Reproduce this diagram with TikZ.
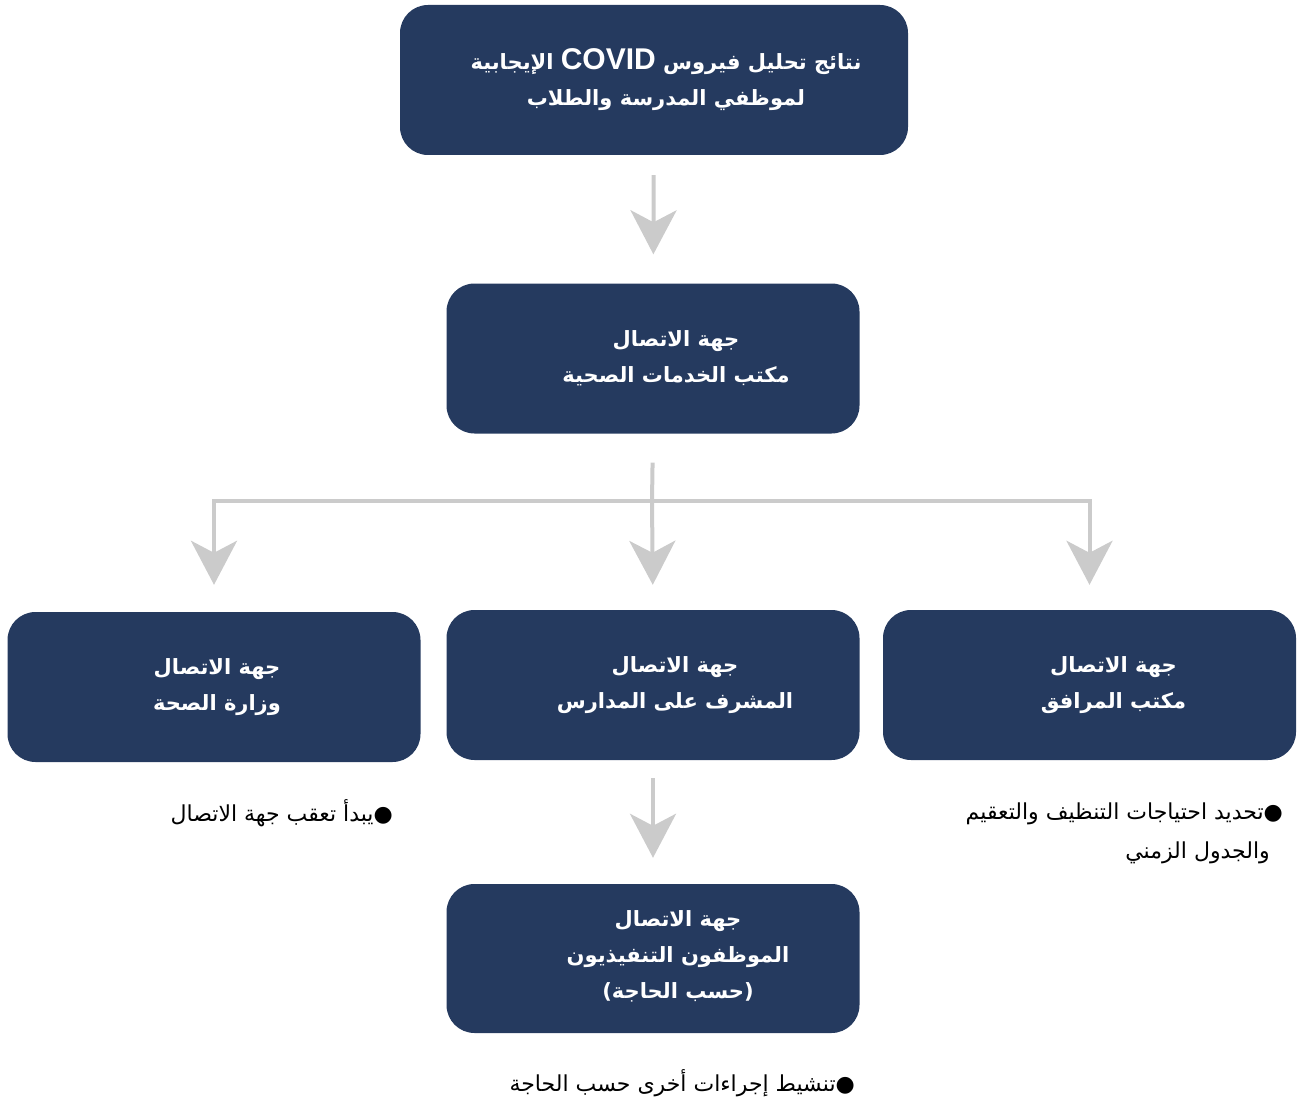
\documentclass[tikz,border=0pt]{standalone}
\usepackage{fontspec}
\setmainfont{DejaVu Sans}
\newfontfamily\arabicfont[Script=Arabic]{DejaVu Sans}
\newfontfamily\latinfont{Liberation Sans}
\TeXXeTstate=1
\usetikzlibrary{arrows.meta}
\definecolor{navy}{HTML}{253A5F}
\definecolor{arrgray}{HTML}{CBCBCB}
\tikzset{
 box/.style={fill=navy, rounded corners=28pt, minimum width=413pt, minimum height=150pt, inner sep=0pt},
 boxtext/.style={text=white, font=\arabicfont\bfseries\fontsize{21}{36}\selectfont, align=center, inner sep=0pt},
 ln/.style={draw=arrgray, line width=4pt},
 arr/.style={ln, -{Stealth[length=44pt,width=46pt,inset=12pt]}},
 note/.style={font=\arabicfont\fontsize{22}{39}\selectfont, inner sep=0pt, align=right}
}
\begin{document}
\begin{tikzpicture}[x=1pt,y=-1pt]
\useasboundingbox (0,0) rectangle (1304,1102);
\node[box, minimum width=508pt] (top) at (654,80) {};
\node[boxtext] (top-t) at ([xshift=12pt]top.center)
  {\beginR نتائج تحليل فيروس \beginL{\latinfont\bfseries\fontsize{30}{36}\selectfont COVID}\endL{} الإيجابية\endR\\
   \beginR لموظفي المدرسة والطلاب\endR};
\node[box] (hs) at (653,358.5) {};
\node[boxtext] (hs-t) at ([xshift=23pt]hs.center)
  {\beginR جهة الاتصال\endR\\ \beginR مكتب الخدمات الصحية\endR};
\node[box] (moh) at (214,687) {};
\node[boxtext] (moh-t) at ([xshift=3pt]moh.center)
  {\beginR جهة الاتصال\endR\\ \beginR وزارة الصحة\endR};
\node[box] (sup) at (653,685) {};
\node[boxtext] (sup-t) at ([xshift=22pt]sup.center)
  {\beginR جهة الاتصال\endR\\ \beginR المشرف على المدارس\endR};
\node[box] (fac) at (1089.5,685) {};
\node[boxtext] (fac-t) at ([xshift=24pt]fac.center)
  {\beginR جهة الاتصال\endR\\ \beginR مكتب المرافق\endR};
\node[box, minimum height=149pt] (exe) at (653,958.5) {};
\node[boxtext] (exe-t) at ([xshift=25pt,yshift=2pt]exe.center)
  {\beginR جهة الاتصال\endR\\ \beginR الموظفون التنفيذيون\endR\\ \beginR(حسب الحاجة)\endR};

\coordinate (br) at (652,501);

\draw[arr, shorten <=20pt, shorten >=29pt] (top) -- (hs);
\draw[ln, shorten <=29pt] (hs.south) -- (br);
\draw[ln, line cap=rect] (moh.north |- br) -- (fac.north |- br);
\draw[arr, shorten >=27pt] (moh.north |- br) -- (moh.north);
\draw[arr, shorten >=25pt] (br) -- (sup.north);
\draw[arr, shorten >=25pt] (fac.north |- br) -- (fac.north);
\draw[arr, shorten <=18pt, shorten >=26pt] (sup) -- (exe);

\node[note, anchor=east] (n1) at (393,813) {\beginR ●يبدأ تعقب جهة الاتصال\endR};
\node[note, anchor=east] (n2) at (1283,833)
  {\beginR ●تحديد احتياجات التنظيف والتعقيم\endR\\ \beginR والجدول الزمني\endR\hspace*{13pt}};
\node[note, anchor=east] (n3) at (855,1083) {\beginR ●تنشيط إجراءات أخرى حسب الحاجة\endR};
\end{tikzpicture}
\end{document}
